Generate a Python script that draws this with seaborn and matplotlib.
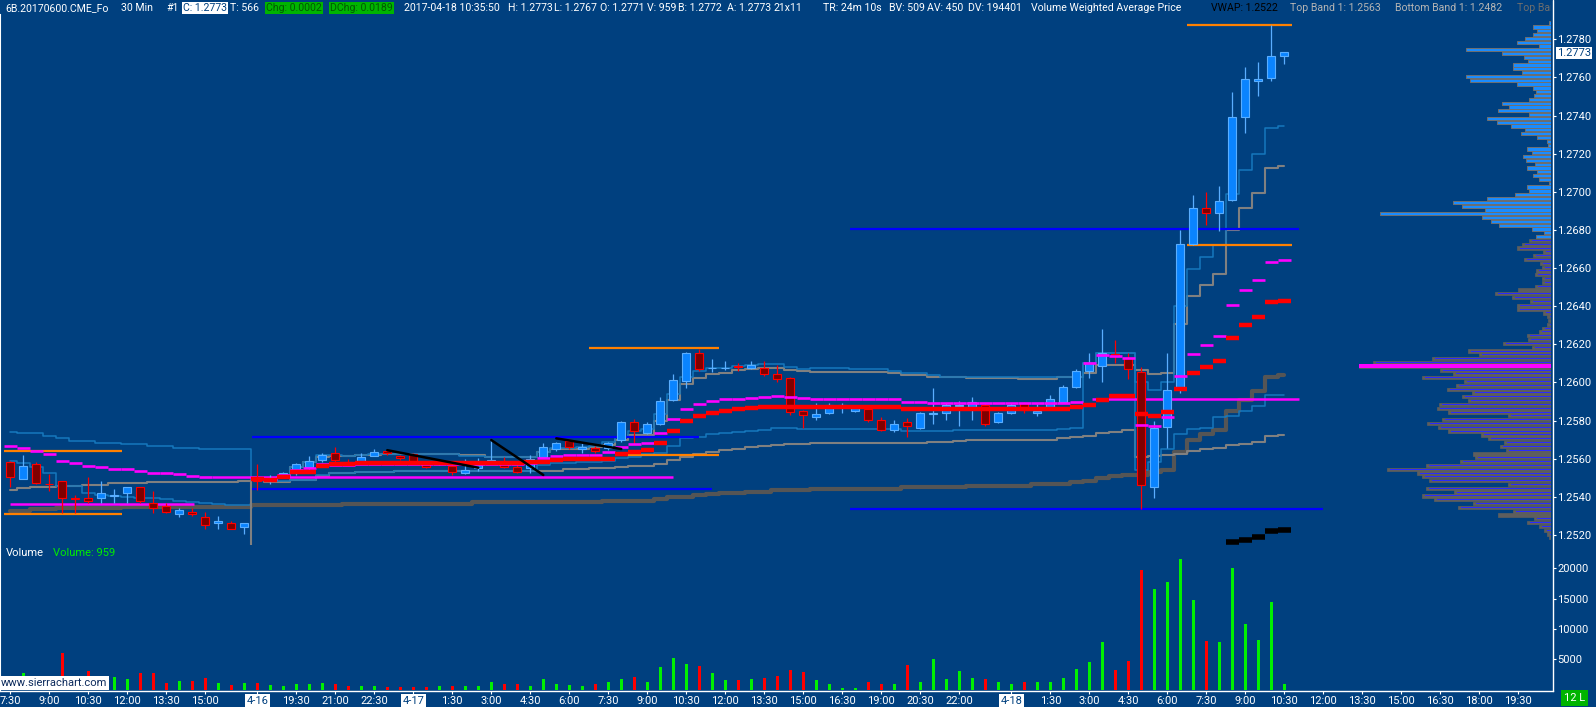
import matplotlib
matplotlib.use("Agg")
import matplotlib.pyplot as plt
from matplotlib.lines import Line2D
import numpy as np
import pandas as pd
import seaborn as sns

# 6B June 2017 (CME), 30 min bars, 04-14 07:30 .. 04-18 10:30
opens = [1.25583, 1.25492, 1.25572, 1.25470, 1.25483, 1.25393, 1.25394, 1.25392, 1.25405, 1.25419,
         1.25450, 1.25370, 1.25352, 1.25308, 1.25319, 1.25296, 1.25261, 1.25261, 1.25240, 1.25497,
         1.25490, 1.25506, 1.25538, 1.25558, 1.25593, 1.25628, 1.25583, 1.25583, 1.25616, 1.25639,
         1.25612, 1.25625, 1.25576, 1.25575, 1.25562, 1.25527, 1.25550, 1.25581, 1.25585, 1.25558,
         1.25550, 1.25611, 1.25649, 1.25691, 1.25649, 1.25658, 1.25655, 1.25698, 1.25791, 1.25737,
         1.25780, 1.25908, 1.26009, 1.26153, 1.26074, 1.26074, 1.26085, 1.26078, 1.26078, 1.26044,
         1.26022, 1.25849, 1.25821, 1.25838, 1.25876, 1.25850, 1.25863, 1.25803, 1.25751, 1.25791,
         1.25760, 1.25836, 1.25838, 1.25876, 1.25870, 1.25880, 1.25791, 1.25838, 1.25891, 1.25838,
         1.25873, 1.25899, 1.25978, 1.26058, 1.26088, 1.26148, 1.26127, 1.26056, 1.25450, 1.25767,
         1.25971, 1.26728, 1.26913, 1.26890, 1.26959, 1.27390, 1.27579, 1.27599, 1.27711]
highs = [1.25590, 1.25618, 1.25585, 1.25520, 1.25485, 1.25410, 1.25502, 1.25483, 1.25440, 1.25452,
         1.25452, 1.25431, 1.25370, 1.25340, 1.25340, 1.25319, 1.25300, 1.25272, 1.25261, 1.25572,
         1.25515, 1.25530, 1.25580, 1.25614, 1.25632, 1.25660, 1.25597, 1.25628, 1.25651, 1.25645,
         1.25618, 1.25632, 1.25580, 1.25590, 1.25585, 1.25600, 1.25602, 1.25702, 1.25607, 1.25585,
         1.25620, 1.25681, 1.25690, 1.25702, 1.25681, 1.25665, 1.25690, 1.25800, 1.25807, 1.25791,
         1.25926, 1.26044, 1.26160, 1.26174, 1.26121, 1.26113, 1.26104, 1.26113, 1.26113, 1.26092,
         1.26030, 1.25855, 1.25891, 1.25890, 1.25894, 1.25872, 1.25872, 1.25817, 1.25803, 1.25815,
         1.25845, 1.25971, 1.25890, 1.25903, 1.25926, 1.25890, 1.25845, 1.25890, 1.25900, 1.25887,
         1.25934, 1.25985, 1.26071, 1.26153, 1.26278, 1.26221, 1.26157, 1.26079, 1.25799, 1.26154,
         1.26799, 1.26982, 1.27001, 1.27028, 1.27523, 1.27654, 1.27681, 1.27874, 1.27735]
lows = [1.25454, 1.25492, 1.25465, 1.25431, 1.25317, 1.25317, 1.25366, 1.25366, 1.25366, 1.25366,
        1.25366, 1.25314, 1.25314, 1.25296, 1.25300, 1.25232, 1.25232, 1.25230, 1.25204, 1.25436,
        1.25468, 1.25500, 1.25515, 1.25538, 1.25585, 1.25585, 1.25565, 1.25580, 1.25612, 1.25620,
        1.25594, 1.25585, 1.25550, 1.25565, 1.25514, 1.25520, 1.25538, 1.25575, 1.25550, 1.25523,
        1.25523, 1.25605, 1.25640, 1.25650, 1.25628, 1.25630, 1.25645, 1.25690, 1.25681, 1.25730,
        1.25775, 1.25903, 1.25973, 1.26060, 1.26057, 1.26065, 1.26062, 1.26072, 1.26034, 1.26002,
        1.25828, 1.25763, 1.25803, 1.25835, 1.25842, 1.25845, 1.25794, 1.25745, 1.25742, 1.25716,
        1.25754, 1.25782, 1.25803, 1.25772, 1.25803, 1.25772, 1.25785, 1.25833, 1.25838, 1.25826,
        1.25868, 1.25890, 1.25973, 1.26025, 1.26003, 1.26101, 1.26016, 1.25338, 1.25395, 1.25654,
        1.25945, 1.26720, 1.26824, 1.26796, 1.26952, 1.27306, 1.27505, 1.27581, 1.27670]
closes = [1.25502, 1.25562, 1.25471, 1.25466, 1.25392, 1.25390, 1.25380, 1.25419, 1.25410, 1.25450,
          1.25380, 1.25340, 1.25319, 1.25331, 1.25308, 1.25251, 1.25272, 1.25230, 1.25261, 1.25485,
          1.25493, 1.25527, 1.25572, 1.25590, 1.25618, 1.25593, 1.25572, 1.25607, 1.25637, 1.25628,
          1.25605, 1.25590, 1.25558, 1.25580, 1.25532, 1.25541, 1.25566, 1.25593, 1.25558, 1.25529,
          1.25597, 1.25660, 1.25681, 1.25660, 1.25663, 1.25642, 1.25681, 1.25791, 1.25747, 1.25780,
          1.25903, 1.26013, 1.26153, 1.26069, 1.26078, 1.26078, 1.26080, 1.26090, 1.26043, 1.26020,
          1.25847, 1.25831, 1.25833, 1.25882, 1.25880, 1.25864, 1.25803, 1.25751, 1.25780, 1.25772,
          1.25838, 1.25840, 1.25880, 1.25880, 1.25899, 1.25780, 1.25838, 1.25880, 1.25856, 1.25850,
          1.25912, 1.25978, 1.26060, 1.26104, 1.26157, 1.26140, 1.26069, 1.25462, 1.25760, 1.25959,
          1.26728, 1.26913, 1.26890, 1.26950, 1.27390, 1.27590, 1.27590, 1.27711, 1.27732]

volumes = [1500, 2760, 1400, 1300, 6070, 1200, 3090, 1500, 1990, 1710,
           2800, 2800, 1150, 1450, 1450, 1950, 1150, 800, 1000, 1150,
           800, 550, 830, 990, 1100, 830, 500, 500, 500, 440,
           440, 390, 390, 500, 500, 660, 660, 1270, 830, 990,
           660, 1710, 990, 720, 660, 990, 1160, 1660, 1990, 1160,
           3640, 5130, 4140, 3810, 2650, 1490, 1490, 1660, 1820, 2150,
           3150, 2820, 1490, 990, 250, 250, 1160, 990, 990, 3970,
           1160, 4970, 1660, 2980, 1820, 1660, 1160, 990, 1160, 1160,
           1160, 1820, 3310, 4470, 7780, 3150, 4640, 19700, 16560, 17720,
           21530, 14740, 7950, 7780, 20040, 10760, 8110, 14410, 959]
vol_dir = ("rgrrrrrggg" "rrrgrrgrgr" "gggggrrggr" "rrrgrgggrr" "gggggrggrg"
           "gggrggrgrr" "rrggggrrgr" "gggggrggrg" "gggggrrrgg" "ggrgggggg")

nan = float("nan")
band_up_teal = [1.25742, 1.25733, 1.25733, 1.25719, 1.25707, 1.25695, 1.25695, 1.25684, 1.25684, 1.25675,
                1.25675, 1.25667, 1.25667, 1.25658, 1.25658, 1.25653, 1.25653, 1.25649, 1.25649, 1.25488,
                1.25488, 1.25506, 1.25555, 1.25585, 1.25618, 1.25620, 1.25614, 1.25618, 1.25625, 1.25625,
                1.25625, 1.25625, 1.25625, 1.25625, 1.25625, 1.25616, 1.25616, 1.25607, 1.25607, 1.25607,
                1.25607, 1.25637, 1.25658, 1.25658, 1.25663, 1.25668, 1.25688, 1.25716, 1.25747, 1.25754,
                1.25833, 1.25938, 1.26030, 1.26060, 1.26074, 1.26078, 1.26086, 1.26092, 1.26095, 1.26095,
                1.26083, 1.26071, 1.26074, 1.26074, 1.26074, 1.26069, 1.26069, 1.26069, 1.26060, 1.26051,
                1.26051, 1.26039, 1.26030, 1.26030, 1.26027, 1.26027, 1.26027, 1.26027, 1.26027, 1.26027,
                1.26027, 1.26027, 1.26030, 1.26100, 1.26154, 1.26154, 1.26154, 1.26003, 1.25962, 1.26003,
                1.26402, 1.26597, 1.26659, 1.26721, 1.26987, 1.27117, 1.27197, 1.27333, 1.27345]
band_lo_teal = [1.25588, 1.25576, 1.25555, 1.25527, 1.25457, 1.25457, 1.25419, 1.25410, 1.25405, 1.25398,
                1.25396, 1.25392, 1.25387, 1.25380, 1.25375, 1.25366, 1.25363, 1.25357, 1.25357, 1.25488,
                1.25483, 1.25483, 1.25488, 1.25488, 1.25515, 1.25527, 1.25527, 1.25532, 1.25532, 1.25532,
                1.25537, 1.25537, 1.25537, 1.25537, 1.25537, 1.25537, 1.25537, 1.25537, 1.25537, 1.25537,
                1.25537, 1.25567, 1.25576, 1.25576, 1.25581, 1.25585, 1.25590, 1.25602, 1.25611, 1.25623,
                1.25632, 1.25667, 1.25707, 1.25716, 1.25728, 1.25733, 1.25738, 1.25745, 1.25751, 1.25760,
                1.25760, 1.25754, 1.25754, 1.25754, 1.25754, 1.25754, 1.25754, 1.25754, 1.25754, 1.25745,
                1.25745, 1.25745, 1.25745, 1.25751, 1.25751, 1.25751, 1.25751, 1.25751, 1.25751, 1.25751,
                1.25751, 1.25756, 1.25760, 1.26100, 1.26154, 1.26154, 1.26154, 1.25542, 1.25583, 1.25649,
                1.25728, 1.25755, 1.25760, 1.25817, 1.25826, 1.25852, 1.25879, 1.25932, 1.25932]
band_up_gray = [nan, nan, nan, nan, nan, nan, nan, nan, nan, nan,
                nan, nan, nan, nan, nan, nan, nan, nan, nan, 1.25488,
                1.25488, 1.25506, 1.25555, 1.25585, 1.25607, 1.25614, 1.25614, 1.25620, 1.25620, 1.25625,
                1.25625, 1.25625, 1.25625, 1.25625, 1.25625, 1.25618, 1.25618, 1.25611, 1.25611, 1.25611,
                1.25611, 1.25637, 1.25649, 1.25649, 1.25651, 1.25663, 1.25672, 1.25698, 1.25723, 1.25726,
                1.25800, 1.25908, 1.25992, 1.26025, 1.26044, 1.26051, 1.26065, 1.26071, 1.26078, 1.26078,
                1.26065, 1.26060, 1.26057, 1.26057, 1.26057, 1.26057, 1.26057, 1.26057, 1.26051, 1.26039,
                1.26039, 1.26030, 1.26030, 1.26030, 1.26025, 1.26025, 1.26025, 1.26025, 1.26020, 1.26020,
                1.26020, 1.26027, 1.26030, 1.26048, 1.26092, 1.26092, 1.26092, 1.26065, 1.26044, 1.26048,
                1.26305, 1.26455, 1.26512, 1.26571, 1.26801, 1.26916, 1.26996, 1.27126, 1.27135]
band_lo_gray = [1.25436, 1.25445, 1.25450, 1.25453, 1.25457, 1.25457, 1.25462, 1.25462, 1.25471, 1.25471,
                1.25471, 1.25478, 1.25478, 1.25478, 1.25478, 1.25478, 1.25478, 1.25478, 1.25485, 1.25488,
                1.25480, 1.25480, 1.25488, 1.25488, 1.25509, 1.25523, 1.25523, 1.25528, 1.25528, 1.25528,
                1.25534, 1.25534, 1.25534, 1.25534, 1.25534, 1.25534, 1.25534, 1.25534, 1.25537, 1.25537,
                1.25537, 1.25537, 1.25537, 1.25544, 1.25544, 1.25550, 1.25550, 1.25558, 1.25564, 1.25564,
                1.25570, 1.25593, 1.25607, 1.25625, 1.25637, 1.25645, 1.25651, 1.25660, 1.25667, 1.25672,
                1.25677, 1.25677, 1.25681, 1.25681, 1.25681, 1.25681, 1.25681, 1.25681, 1.25681, 1.25681,
                1.25681, 1.25690, 1.25690, 1.25695, 1.25698, 1.25698, 1.25698, 1.25698, 1.25698, 1.25698,
                1.25698, 1.25707, 1.25712, 1.25721, 1.25733, 1.25742, 1.25750, 1.25608, 1.25613, 1.25622,
                1.25626, 1.25640, 1.25649, 1.25657, 1.25672, 1.25679, 1.25689, 1.25720, 1.25725]
long_vwap = [1.25328, 1.25328, 1.25335, 1.25335, 1.25340, 1.25340, 1.25340, 1.25340, 1.25340, 1.25345,
             1.25345, 1.25345, 1.25345, 1.25349, 1.25349, 1.25349, 1.25349, 1.25349, 1.25349, 1.25356,
             1.25356, 1.25356, 1.25356, 1.25356, 1.25356, 1.25356, 1.25363, 1.25363, 1.25363, 1.25363,
             1.25363, 1.25363, 1.25363, 1.25363, 1.25363, 1.25363, 1.25373, 1.25373, 1.25373, 1.25373,
             1.25373, 1.25373, 1.25373, 1.25373, 1.25373, 1.25373, 1.25380, 1.25380, 1.25380, 1.25380,
             1.25387, 1.25401, 1.25401, 1.25410, 1.25415, 1.25419, 1.25419, 1.25427, 1.25427, 1.25436,
             1.25436, 1.25436, 1.25441, 1.25441, 1.25441, 1.25441, 1.25441, 1.25441, 1.25441, 1.25450,
             1.25450, 1.25450, 1.25453, 1.25453, 1.25457, 1.25457, 1.25457, 1.25457, 1.25457, 1.25468,
             1.25468, 1.25468, 1.25480, 1.25483, 1.25497, 1.25511, 1.25515, 1.25515, 1.25530, 1.25543,
             1.25638, 1.25697, 1.25728, 1.25749, 1.25852, 1.25906, 1.25955, 1.26030, 1.26039]
vwap_red = [nan, nan, nan, nan, nan, nan, nan, nan, nan, nan,
            nan, nan, nan, nan, nan, nan, nan, nan, nan, 1.25492,
            1.25488, 1.25506, 1.25532, 1.25532, 1.25562, 1.25572, 1.25572, 1.25576, 1.25576, 1.25579,
            1.25579, 1.25579, 1.25579, 1.25579, 1.25579, 1.25579, 1.25576, 1.25576, 1.25579, 1.25579,
            1.25585, 1.25585, 1.25593, 1.25597, 1.25597, 1.25597, 1.25597, 1.25625, 1.25637, 1.25647,
            1.25684, 1.25745, 1.25798, 1.25826, 1.25842, 1.25852, 1.25859, 1.25864, 1.25870, 1.25873,
            1.25873, 1.25873, 1.25873, 1.25873, 1.25873, 1.25873, 1.25870, 1.25870, 1.25870, 1.25861,
            1.25861, 1.25861, 1.25861, 1.25861, 1.25861, 1.25861, 1.25861, 1.25861, 1.25861, 1.25861,
            1.25861, 1.25861, 1.25873, 1.25883, 1.25906, 1.25927, 1.25927, 1.25835, 1.25826, 1.25847,
            1.25968, 1.26048, 1.26079, 1.26115, 1.26234, 1.26303, 1.26345, 1.26424, 1.26429]
vwap_mag = [1.25668, 1.25658, 1.25642, 1.25625, 1.25590, 1.25579, 1.25562, 1.25555, 1.25546, 1.25546,
            1.25537, 1.25527, 1.25527, 1.25520, 1.25511, 1.25506, nan, nan, nan, 1.25497,
            1.25495, 1.25515, 1.25541, 1.25550, 1.25572, 1.25567, 1.25567, 1.25571, 1.25571, 1.25574,
            1.25574, 1.25574, 1.25574, 1.25574, 1.25574, 1.25574, 1.25571, 1.25571, 1.25574, 1.25574,
            1.25580, 1.25602, 1.25614, 1.25620, 1.25620, 1.25620, 1.25637, 1.25663, 1.25677, 1.25684,
            1.25737, 1.25807, 1.25863, 1.25889, 1.25905, 1.25912, 1.25915, 1.25920, 1.25926, 1.25929,
            1.25926, 1.25917, 1.25915, 1.25915, 1.25915, 1.25915, 1.25915, 1.25915, 1.25915, 1.25900,
            1.25900, 1.25894, 1.25894, 1.25894, 1.25894, 1.25894, 1.25894, 1.25894, 1.25894, 1.25894,
            1.25894, 1.25894, 1.25900, 1.26104, 1.26145, 1.26139, 1.26127, 1.25778, 1.25773, 1.25820,
            1.26033, 1.26150, 1.26198, 1.26246, 1.26407, 1.26486, 1.26539, 1.26633, 1.26643]
vwap_black_bars = [94, 95, 96, 97, 98]
vwap_black = [1.25161, 1.25173, 1.25191, 1.25223, 1.25228]

# drawing tools: (bar from, bar to, price)
orange_levels = [(-0.5, 8.6, 1.25642), (-0.5, 8.6, 1.25312), (44.5, 54.5, 1.26183),
                 (46.5, 54.5, 1.25621), (90.5, 98.6, 1.27874), (90.5, 98.6, 1.26721)]
blue_levels = [(18.6, 53.0, 1.25716), (18.6, 54.0, 1.25443), (64.6, 99.1, 1.26806), (64.6, 101.0, 1.25335)]
magenta_levels = [(0.0, 14.1, 1.25363), (15.5, 51.0, 1.25506), (83.2, 99.1, 1.25915)]
trend_lines = [((29.0, 1.25645), (36.0, 1.25553)), ((37.0, 1.25698), (41.0, 1.25515)),
               ((42.0, 1.25707), (47.0, 1.25651))]

# volume at price profile (0.0002 rows from the top)
profile_top = 1.27885
profile_step = 0.0002
profile_vol = [1.3, 17.3, 14.0, 17.3, 25.7, 33.3, 11.3, 84.7, 48.3, 26.3,
               22.3, 38.0, 37.3, 28.3, 84.7, 80.7, 34.0, 17.3, 14.7, 16.7,
               21.3, 48.3, 41.3, 52.3, 21.3, 63.3, 53.3, 39.7, 25.3, 29.3,
               14.0, 4.0, 2.7, 23.3, 18.3, 27.3, 24.7, 15.7, 24.0, 14.0,
               17.3, 11.3, 1.3, 23.3, 21.3, 35.7, 63.3, 97.3, 88.3, 65.3,
               170.7, 68.3, 59.3, 51.7, 18.3, 6.3, 15.0, 21.3, 28.3, 33.7,
               7.3, 17.3, 26.3, 10.7, 9.0, 14.7, 15.3, 8.3, 9.0, 15.3,
               32.3, 55.7, 39.0, 20.7, 33.7, 33.7, 7.3, 4.0, 2.3, 4.0,
               8.3, 11.3, 24.0, 22.3, 47.3, 19.0, 82.3, 71.3, 119.0, 178.0,
               191.3, 110.7, 97.3, 129.0, 86.3, 95.0, 103.3, 78.7, 89.0, 83.0,
               111.3, 114.0, 102.3, 42.3, 108.3, 123.3, 112.3, 102.3, 69.7, 62.3,
               46.3, 50.3, 44.7, 77.3, 75.7, 90.7, 125.0, 163.3, 133.3, 128.3,
               121.7, 43.0, 125.0, 96.7, 128.3, 116.3, 77.3, 92.3, 37.3, 52.3,
               16.3, 23.3, 11.7, 6.7, 4.0, 1.3]
profile_today_rows = 57
profile_poc_row = 90

price_ticks = [1.2520, 1.2540, 1.2560, 1.2580, 1.2600, 1.2620, 1.2640, 1.2660, 1.2680, 1.2700,
               1.2720, 1.2740, 1.2760, 1.2780]
vol_ticks = [5000, 10000, 15000, 20000]
time_pos = [0, 3, 6, 9, 12, 15, 19, 22, 25, 28, 31, 34, 37, 40, 43, 46, 49, 52, 55, 58, 61,
            64, 67, 70, 73, 77, 80, 83, 86, 89, 92, 95, 98, 101, 104, 107, 110, 113, 116]
time_txt = ['7:30', '9:00', '10:30', '12:00', '13:30', '15:00', '4-16', '19:30', '21:00', '22:30',
            '4-17', '1:30', '3:00', '4:30', '6:00', '7:30', '9:00', '10:30', '12:00', '13:30', '15:00',
            '16:30', '19:00', '20:30', '22:00', '4-18', '1:30', '3:00', '4:30', '6:00', '7:30', '9:00',
            '10:30', '12:00', '13:30', '15:00', '16:30', '18:00', '19:30']
last_price = 1.2773

BG = '#00407f'
W, H = 1596, 707

sns.set_style("dark", rc={"axes.facecolor": BG, "figure.facecolor": BG})
plt.rcParams['font.family'] = ['Roboto', 'DejaVu Sans']


def px_box(x0, y0, x1, y1):
    return [x0 / W, 1 - y1 / H, (x1 - x0) / W, (y1 - y0) / H]


fig = plt.figure(figsize=(W / 100, H / 100), dpi=100)
ax = fig.add_axes(px_box(0, 15, 1553, 550))
axv = fig.add_axes(px_box(0, 550, 1553, 691), sharex=ax)
axp = fig.add_axes(px_box(1290, 15, 1550.7, 550), sharey=ax)
axh = fig.add_axes(px_box(0, 0, 1551, 15))

idx = np.arange(len(opens))
o, h, l, c = (np.array(a) for a in (opens, highs, lows, closes))
up = c >= o

# bands / vwap step lines
bands = pd.DataFrame({'bar': idx, 'up_teal': band_up_teal, 'lo_teal': band_lo_teal,
                      'up_gray': band_up_gray, 'lo_gray': band_lo_gray, 'long': long_vwap})
for col, colr, lw in [('long', '#555555', 3.0), ('lo_gray', '#808080', 1.5), ('up_gray', '#808080', 1.5),
                      ('lo_teal', '#1678bd', 1.1), ('up_teal', '#1678bd', 1.1)]:
    sns.lineplot(data=bands, x='bar', y=col, ax=ax, color=colr, lw=lw, drawstyle='steps-mid',
                 estimator=None, legend=False, zorder=2)
ax.vlines(18.5, 1.25148, 1.25489, color='#808080', lw=1.5, zorder=2)
ax.set_xlabel('')
ax.set_ylabel('')

# drawing tools
for x0, x1, p in orange_levels:
    ax.hlines(p, x0, x1, color='#ff8000', lw=1.6, zorder=2)
for x0, x1, p in blue_levels:
    ax.hlines(p, x0, x1, color='#0000ff', lw=1.6, zorder=2)
for x0, x1, p in magenta_levels:
    ax.hlines(p, x0, x1, color='#ff00ff', lw=1.8, zorder=2)

# candles
ax.vlines(idx[up], l[up], h[up], color='#5aaeff', lw=0.9, zorder=3)
ax.vlines(idx[~up], l[~up], h[~up], color='#ff0000', lw=0.9, zorder=3)
body_lo = np.minimum(o, c)
body_h = np.maximum(np.abs(c - o), 0.00002)
ax.bar(idx[up], body_h[up], bottom=body_lo[up], width=0.64, color='#0a84ff',
       edgecolor='#5aaeff', lw=0.8, zorder=4)
ax.bar(idx[~up], body_h[~up], bottom=body_lo[~up], width=0.64, color='#800000',
       edgecolor='#ff0000', lw=0.8, zorder=4)


def dash_line(vals, colr, lw):
    v = np.array(vals, dtype=float)
    m = ~np.isnan(v)
    ax.hlines(v[m], idx[m] - 0.5, idx[m] + 0.5, colors=colr, lw=lw, zorder=5)


dash_line(vwap_mag, '#ff00ff', 1.9)
dash_line(vwap_red, '#ff0000', 3.2)
vb = np.array(vwap_black_bars)
ax.hlines(vwap_black, vb - 0.5, vb + 0.5, colors='black', lw=4, zorder=5)
for (x0, y0), (x1, y1) in trend_lines:
    ax.plot([x0, x1], [y0, y1], color='black', lw=1.8, zorder=6)

ax.set_xlim(-0.79, 118.67)
ax.set_ylim(1.251214, 1.279275)

# volume panel
vcol = ['#00f000' if d == 'g' else '#ff0000' for d in vol_dir]
axv.bar(idx, volumes, width=0.22, color=vcol, edgecolor='none', lw=0, zorder=2)
axv.set_ylim(-247, 23020)

for a in (ax, axv):
    a.set_facecolor(BG)
    a.grid(False)
    for s in a.spines.values():
        s.set_visible(False)
    a.spines['left'].set_visible(True)
    a.spines['left'].set_color('white')
    a.spines['left'].set_linewidth(1.5)
    a.yaxis.tick_right()
    a.tick_params(axis='y', colors='white', labelcolor='white', length=2.2, width=0.8,
                  pad=0.8, labelsize=8, direction='out')

ax.set_yticks(price_ticks)
ax.set_yticklabels([f'{p:.4f}' for p in price_ticks])
ax.tick_params(axis='x', bottom=False, labelbottom=False)
ax.annotate(f'{last_price:.4f}', xy=(1, last_price), xycoords=('axes fraction', 'data'),
            xytext=(2.6, 0), textcoords='offset points', va='center', ha='left', fontsize=8,
            color=BG, bbox=dict(facecolor='white', edgecolor='none', pad=0.8), zorder=10,
            annotation_clip=False)

axv.set_yticks(vol_ticks)
axv.set_yticklabels([str(v) for v in vol_ticks])
axv.spines['bottom'].set_visible(True)
axv.spines['bottom'].set_color('white')
axv.spines['bottom'].set_linewidth(1)
axv.set_xticks(time_pos)
axv.set_xticklabels(time_txt)
axv.tick_params(axis='x', colors='white', labelcolor='white', length=2.5, width=0.8,
                pad=1.2, labelsize=8, bottom=True)
for lbl in axv.get_xticklabels():
    if '-' in lbl.get_text():
        lbl.set_color(BG)
        lbl.set_bbox(dict(facecolor='white', edgecolor='none', pad=1.2))
axv.set_xlabel('')
axv.set_ylabel('')

# right side volume profile
levels = profile_top - profile_step * np.arange(len(profile_vol))
pv = np.array(profile_vol)
t = profile_today_rows
axp.barh(levels[:t], pv[:t], height=0.00017, color='#1a8cff', edgecolor='#707070', lw=0.7)
axp.barh(levels[t:], pv[t:], height=0.00017, color='#5e5e5e', edgecolor='#5e5e5e', lw=0.5)
axp.barh(levels[t:], np.maximum(pv[t:] - 3, 0), height=0.00005, color='#2a2aff', lw=0)
axp.barh(levels[profile_poc_row], pv[profile_poc_row], height=0.00019, color='#ff00ff', lw=0)
axp.set_xlim(260.7, 0)
axp.axis('off')

# header line (clipped at the price scale like the original)
header = [('6B.20170600.CME_Fo', 5, 'white', None), ('30 Min', 121, 'white', None),
          ('#1', 166, 'white', None), ('C: 1.2773', 183, BG, 'white'), ('T: 566', 230, 'white', None),
          ('Chg: 0.0002', 266, '#005a00', '#00b400'), ('DChg: 0.0189', 330, '#005a00', '#00b400'),
          ('2017-04-18 10:35:50', 404, 'white', None), ('H: 1.2773', 508, 'white', None),
          ('L: 1.2767', 554, 'white', None), ('O: 1.2771', 600, 'white', None),
          ('V: 959', 647, 'white', None), ('B: 1.2772', 678, 'white', None),
          ('A: 1.2773', 727, 'white', None), ('21x11', 774, 'white', None),
          ('TR: 24m 10s', 823, 'white', None), ('BV: 509', 889, 'white', None),
          ('AV: 450', 927, 'white', None), ('DV: 194401', 968, 'white', None),
          ('Volume Weighted Average Price', 1031, 'white', None), ('VWAP: 1.2522', 1211, 'black', None),
          ('Top Band 1: 1.2563', 1290, '#b4b4b4', None), ('Bottom Band 1: 1.2482', 1395, '#b4b4b4', None),
          ('Top Band 2: 1.2604', 1517, '#6e6e6e', None)]
axh.set_xlim(0, 1551)
axh.set_ylim(15, 0)
axh.axis('off')
for s, x, fg, bgc in header:
    kw = {}
    if bgc:
        kw['bbox'] = dict(facecolor=bgc, edgecolor='none', pad=0.9)
    axh.text(x, 8, s, color=fg, fontsize=7.6, va='center', ha='left', clip_on=True, **kw)

# frame pieces and labels
fig.add_artist(Line2D([1553 / W, 1553 / W], [1, 1 - 691 / H], color='white', lw=1))
fig.text(6 / W, 1 - 553 / H, 'Volume', color='white', fontsize=8, va='center')
fig.text(53 / W, 1 - 553 / H, 'Volume: 959', color='#00ee00', fontsize=8, va='center')
fig.text(1 / W, 1 - 683 / H, 'www.sierrachart.com', color='#0c2a5c', fontsize=8, va='center',
         bbox=dict(facecolor='white', edgecolor='none', pad=1.2))
fig.text(1564 / W, 1 - 698 / H, '12 L', color='white', fontsize=8, va='center',
         bbox=dict(facecolor='#00b400', edgecolor='none', pad=2))

fig.savefig('out.png', dpi=100, facecolor=BG)
